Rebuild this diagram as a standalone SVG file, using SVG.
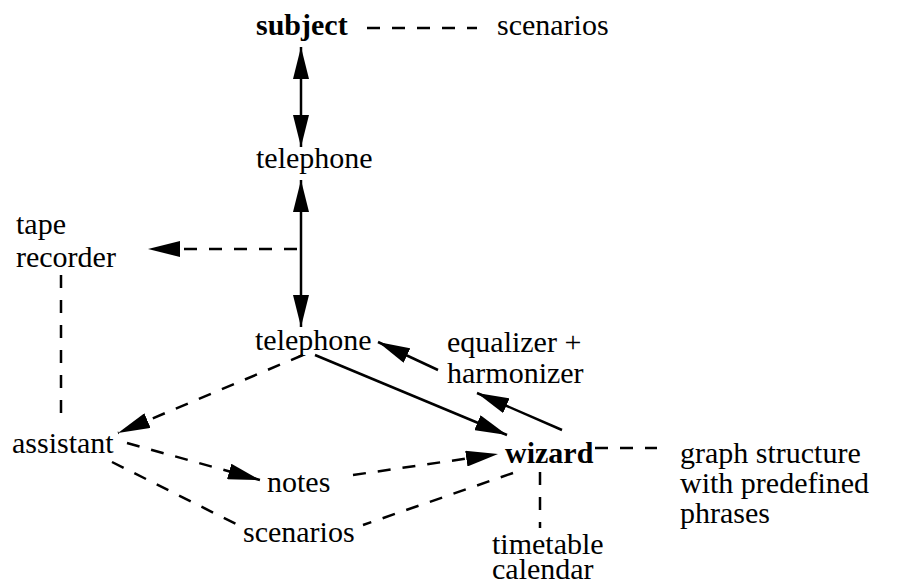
<svg xmlns="http://www.w3.org/2000/svg" width="898" height="584" viewBox="0 0 898 584">
<style>
text{font-family:"Liberation Serif",Tinos,"Times New Roman","Nimbus Roman","DejaVu Serif",serif;font-size:30px;fill:#000}
.b{font-weight:bold}
.s{stroke:#000;stroke-width:2.5;fill:none}
.d{stroke-dasharray:13,12}
</style>
<defs>
<marker id="ah" viewBox="0 0 32 16" refX="32" refY="8" markerWidth="32" markerHeight="16" markerUnits="userSpaceOnUse" orient="auto-start-reverse">
<path d="M0,0 L32,8 L0,16 Z" fill="#000"/>
</marker>
</defs>
<rect width="898" height="584" fill="#fff"/>
<g id="subject"><text class="b" x="256" y="35">subject</text></g>
<g id="scenarios-top"><text x="497" y="35">scenarios</text></g>
<g id="telephone1"><text x="256" y="168">telephone</text></g>
<g id="tape-recorder"><text x="16" y="234">tape</text><text x="16" y="267">recorder</text></g>
<g id="telephone2"><text x="255" y="350">telephone</text></g>
<g id="equalizer"><text x="447" y="352">equalizer +</text><text x="447" y="383">harmonizer</text></g>
<g id="assistant"><text x="12" y="453">assistant</text></g>
<g id="notes"><text x="267" y="492">notes</text></g>
<g id="wizard"><text class="b" x="505" y="463">wizard</text></g>
<g id="graph-structure"><text x="680" y="463">graph structure</text><text x="680" y="493">with predefined</text><text x="680" y="523">phrases</text></g>
<g id="scenarios-bottom"><text x="243" y="542">scenarios</text></g>
<g id="timetable"><text x="492" y="554">timetable</text><text x="492" y="579">calendar</text></g>
<g id="connectors">
<line class="s d" x1="367" y1="28" x2="477" y2="28"/>
<line class="s" x1="301" y1="47" x2="301" y2="147" marker-start="url(#ah)" marker-end="url(#ah)"/>
<line class="s" x1="301" y1="180" x2="301" y2="327" marker-start="url(#ah)" marker-end="url(#ah)"/>
<line class="s d" x1="297" y1="249" x2="148" y2="249" marker-end="url(#ah)"/>
<line class="s d" x1="61" y1="275" x2="61" y2="421"/>
<line class="s d" x1="303" y1="355" x2="118" y2="433" marker-end="url(#ah)"/>
<line class="s" x1="315" y1="355" x2="507" y2="435" marker-end="url(#ah)"/>
<line class="s" x1="438" y1="370" x2="378" y2="342" marker-end="url(#ah)"/>
<line class="s" x1="562" y1="430" x2="477" y2="393" marker-end="url(#ah)"/>
<line class="s d" x1="595" y1="448" x2="657" y2="448"/>
<line class="s d" x1="540" y1="472" x2="540" y2="528"/>
<line class="s d" x1="127" y1="443" x2="260" y2="480" marker-end="url(#ah)"/>
<line class="s d" x1="353" y1="475" x2="498" y2="454" marker-end="url(#ah)"/>
<line class="s d" x1="112" y1="462" x2="238" y2="525"/>
<line class="s d" x1="513" y1="473" x2="363" y2="525"/>
</g>
</svg>
